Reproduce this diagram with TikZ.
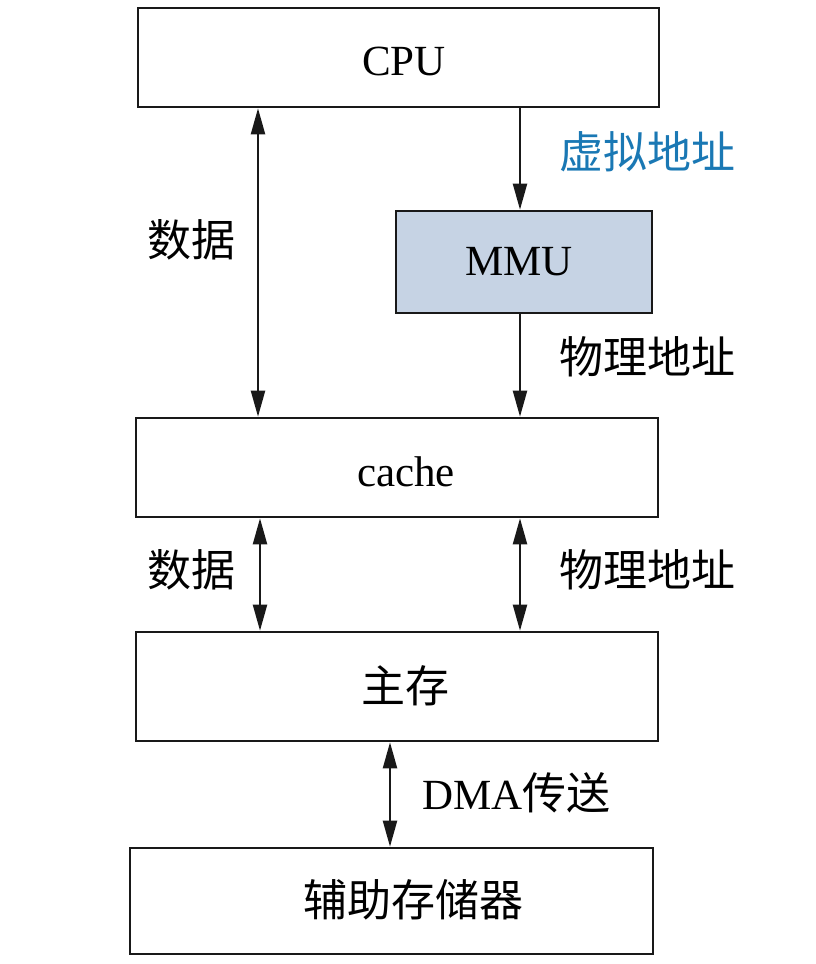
\documentclass[tikz,border=0pt]{standalone}
\usepackage{fontspec}
\setmainfont{Liberation Serif}
\newfontfamily\cjk{Noto Sans CJK SC}
\usetikzlibrary{arrows.meta}
\definecolor{mmufill}{HTML}{C6D3E4}
\definecolor{vblue}{HTML}{1A78B4}
\tikzset{
  unit/.style={draw=black!90, line width=2.6pt, inner sep=0pt},
  utext/.style={inner sep=0pt, font=\fontsize{43}{50}\selectfont},
  lbl/.style={inner sep=0pt, font=\fontsize{44}{50}\selectfont\cjk},
  tip/.tip={Triangle[length=26pt,width=14pt]},
  conn/.style={line width=2.2pt, black!90, -tip},
  bconn/.style={line width=2.2pt, black!90, tip-tip}
}
\begin{document}
\begin{tikzpicture}[x=1pt,y=-1pt]
\useasboundingbox (0,0) rectangle (816,964);
\node[unit, minimum width=521pt, minimum height=99pt] (cpu) at (398.5,57.5) {};
\node[unit, fill=mmufill, minimum width=256pt, minimum height=102pt] (mmu) at (524,262) {};
\node[unit, minimum width=522pt, minimum height=99pt] (cache) at (397,467.5) {};
\node[unit, minimum width=522pt, minimum height=109pt] (main) at (397,686.5) {};
\node[unit, minimum width=523pt, minimum height=106pt] (aux) at (391.5,901) {};

\node[utext] (cputext) at (404,61) {CPU};
\node[utext] (mmutext) at (519,262) {MMU};
\node[utext] (cachetext) at (406,472) {cache};
\node[lbl] (maintext) at (405,686) {主存};
\node[lbl] (auxtext) at (413,900) {辅助存储器};

\draw[bconn] (cpu.south -| 258,0) -- (cache.north -| 258,0);
\draw[conn] (cpu.south -| 520,0) -- (mmu.north -| 520,0);
\draw[conn] (mmu.south -| 520,0) -- (cache.north -| 520,0);
\draw[bconn] (cache.south -| 260,0) -- (main.north -| 260,0);
\draw[bconn] (cache.south -| 520,0) -- (main.north -| 520,0);
\draw[bconn] (main.south -| 390,0) -- (aux.north -| 390,0);

\node[lbl, text=vblue] (va) at (647,152) {虚拟地址};
\node[lbl] (d1) at (191,240) {数据};
\node[lbl] (pa1) at (647,357) {物理地址};
\node[lbl] (d2) at (191,570) {数据};
\node[lbl] (pa2) at (647,570) {物理地址};
\node[lbl, anchor=west] (dma) at (422,793) {{\rmfamily\fontsize{43}{50}\selectfont DMA}传送};
\end{tikzpicture}
\end{document}
